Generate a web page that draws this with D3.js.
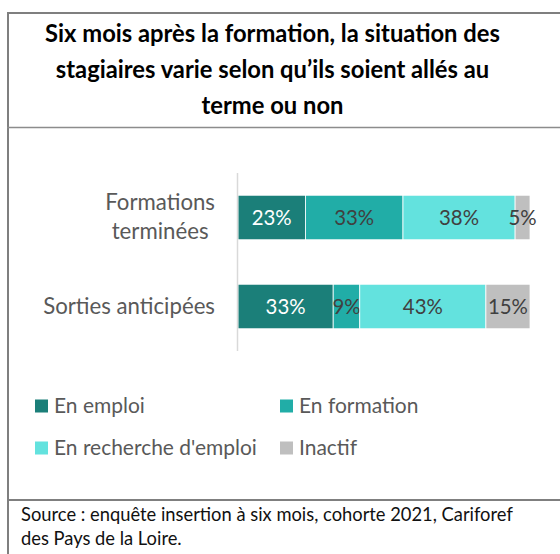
<!DOCTYPE html>
<html>
<head>
<meta charset="utf-8">
<script src="https://cdn.jsdelivr.net/npm/d3@7"></script>
<style>
  html, body { margin: 0; padding: 0; background: #fff; }
  svg { display: block; }
</style>
</head>
<body>
<svg id="chart" width="560" height="554"></svg>
<script>
// ---- data ----
const titleLines = [
  "Six mois après la formation, la situation des",
  "stagiaires varie selon qu\u2019ils soient allés au",
  "terme ou non"
];
const categories = ["Formations terminées", "Sorties anticipées"];
const seriesNames = ["En emploi", "En formation", "En recherche d'emploi", "Inactif"];
const enEmploi = [23.1, 32.6];
const enFormation = [33.4, 9.1];
const enRecherche = [38.4, 43.2];
const inactif = [5.1, 15.1];
const seriesColors = ["#1b7f79", "#21ada7", "#63e2de", "#bfbfbf"];
const labelColors = ["#ffffff", "#404040", "#404040", "#404040"];
const sourceLines = [
  "Source : enquête insertion à six mois, cohorte 2021, Cariforef",
  "des Pays de la Loire."
];

const seriesValues = [enEmploi, enFormation, enRecherche, inactif];
const FONT = "Lato, 'Open Sans', 'DejaVu Sans', sans-serif";

const svg = d3.select("#chart");

// helper: scale font size so that a reference text reaches a target width
function fitSize(text, weight, target) {
  const t = svg.append("text").attr("font-family", FONT).attr("font-size", 20)
    .attr("font-weight", weight).text(text);
  const w = t.node().getComputedTextLength();
  t.remove();
  return 20 * target / w;
}

const titleSize = fitSize(titleLines[0], "bold", 455);
const catSize = fitSize("Sorties anticipées", "normal", 172);
const valSize = fitSize("23%", "normal", 40);
const legSize = fitSize("En recherche d'emploi", "normal", 203);
const srcSize = fitSize(sourceLines[0], "normal", 492);

// ---- frame lines ----
const frame = svg.append("g");
frame.append("line").attr("x1", 8).attr("x2", 8).attr("y1", 12).attr("y2", 554)
  .attr("stroke", "#7f7f7f").attr("stroke-width", 2);
frame.append("line").attr("x1", 7).attr("x2", 560).attr("y1", 13).attr("y2", 13)
  .attr("stroke", "#7f7f7f").attr("stroke-width", 2);
frame.append("line").attr("x1", 7).attr("x2", 560).attr("y1", 127.5).attr("y2", 127.5)
  .attr("stroke", "#8c8c8c").attr("stroke-width", 1.5);
frame.append("line").attr("x1", 7).attr("x2", 560).attr("y1", 500).attr("y2", 500)
  .attr("stroke", "#7f7f7f").attr("stroke-width", 2);

// ---- title ----
svg.append("g").selectAll("text").data(titleLines).join("text")
  .attr("x", 272.5)
  .attr("y", (d, i) => 41.5 + i * 36)
  .attr("text-anchor", "middle")
  .attr("font-family", FONT).attr("font-weight", "bold")
  .attr("font-size", titleSize).attr("fill", "#000")
  .text(d => d);

// ---- scales ----
const x = d3.scaleLinear().domain([0, 100]).range([238, 530]);
const y = d3.scaleBand().domain(categories).range([173, 351])
  .paddingInner(0.5).paddingOuter(0.25);

// stacked data
const rows = categories.map((c, i) => {
  const o = { category: c };
  seriesNames.forEach((s, j) => o[s] = seriesValues[j][i]);
  return o;
});
const stacked = d3.stack().keys(seriesNames)(rows);

const barsG = svg.append("g");
stacked.forEach((layer, j) => {
  const g = barsG.append("g");
  g.selectAll("rect").data(layer).join("rect")
    .attr("x", d => x(d[0]))
    .attr("y", d => y(d.data.category))
    .attr("width", d => x(d[1]) - x(d[0]))
    .attr("height", y.bandwidth())
    .attr("fill", seriesColors[j])
    .attr("stroke", "#ffffff").attr("stroke-width", 0.8);
  g.selectAll("text").data(layer).join("text")
    .attr("x", d => (x(d[0]) + x(d[1])) / 2)
    .attr("y", d => y(d.data.category) + y.bandwidth() / 2)
    .attr("dy", "0.35em")
    .attr("text-anchor", "middle")
    .attr("font-family", FONT).attr("font-size", valSize)
    .attr("fill", labelColors[j])
    .text(d => Math.round(d[1] - d[0]) + "%");
});

// ---- vertical axis ----
const axis = svg.append("g").attr("transform", "translate(237.5,0)")
  .call(d3.axisLeft(y).tickSize(0).tickFormat(""));
axis.select(".domain").attr("stroke", "#d9d9d9").attr("stroke-width", 1.5)
  .attr("d", `M0,${y.range()[0]}V${y.range()[1]}`);

// category labels with wrapping
const catG = svg.append("g");
const maxLabelW = 180;
const labelRight = 215;
categories.forEach(c => {
  const words = c.split(" ");
  const lines = [];
  let cur = "";
  const probe = catG.append("text").attr("font-family", FONT).attr("font-size", catSize);
  const widthOf = s => { probe.text(s); return probe.node().getComputedTextLength(); };
  words.forEach(w => {
    const test = cur ? cur + " " + w : w;
    if (cur && widthOf(test) > maxLabelW) { lines.push(cur); cur = w; }
    else cur = test;
  });
  lines.push(cur);
  const maxW = d3.max(lines, widthOf);
  probe.remove();
  const cy = y(c) + y.bandwidth() / 2;
  const lh = 28.5;
  const cx = labelRight - maxW / 2;
  lines.forEach((ln, k) => {
    catG.append("text")
      .attr("x", lines.length > 1 ? cx : labelRight)
      .attr("y", cy + 7 + (k - (lines.length - 1) / 2) * lh)
      .attr("text-anchor", lines.length > 1 ? "middle" : "end")
      .attr("font-family", FONT).attr("font-size", catSize)
      .attr("fill", "#595959")
      .text(ln);
  });
});

// ---- legend ----
const legPos = [[35, 399.5], [280, 399.5], [35, 441.5], [280, 441.5]];
const legG = svg.append("g");
seriesNames.forEach((s, j) => {
  const [lx, ly] = legPos[j];
  legG.append("rect").attr("x", lx).attr("y", ly).attr("width", 13).attr("height", 13)
    .attr("fill", seriesColors[j]);
  legG.append("text").attr("x", lx + 19).attr("y", ly + 13)
    .attr("font-family", FONT).attr("font-size", legSize)
    .attr("fill", "#595959").text(s);
});

// ---- source ----
svg.append("g").selectAll("text").data(sourceLines).join("text")
  .attr("x", 21)
  .attr("y", (d, i) => 521 + i * 23.5)
  .attr("font-family", FONT).attr("font-size", srcSize)
  .attr("fill", "#111")
  .text(d => d);
</script>
</body>
</html>
